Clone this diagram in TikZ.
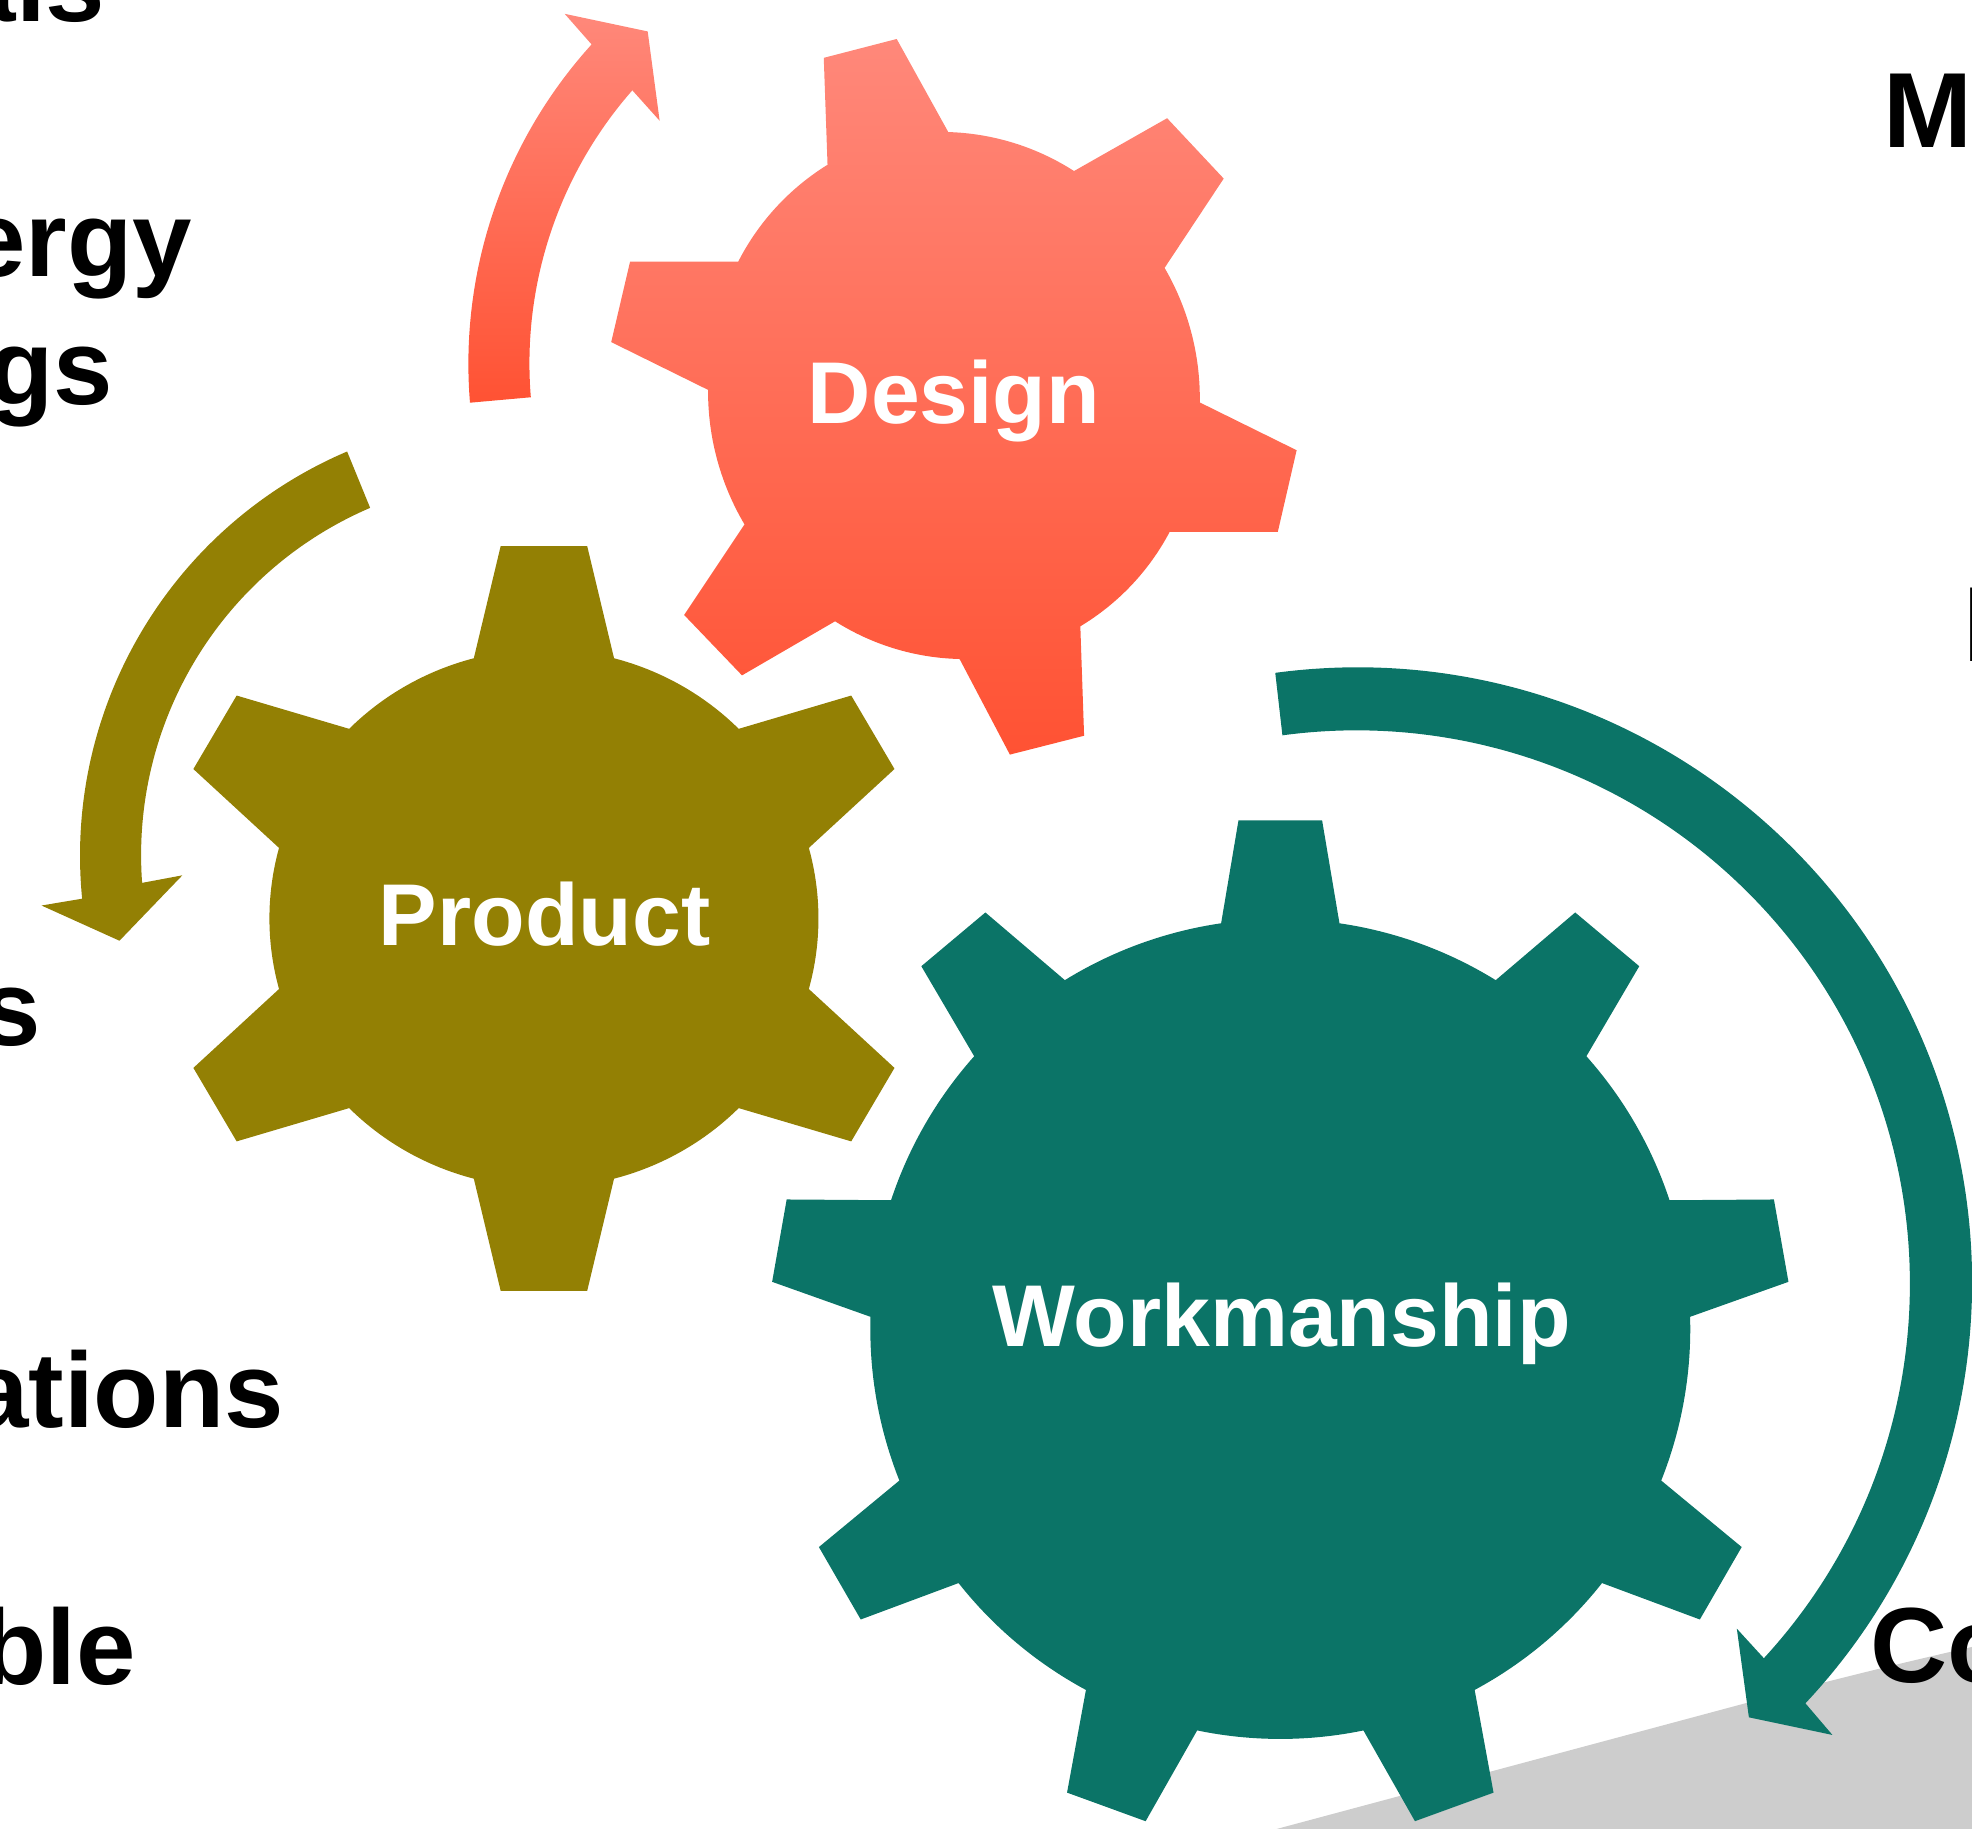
\documentclass[tikz,border=0pt]{standalone}
\usepackage{fontspec}
\setmainfont{Liberation Sans}
\usepackage{tikz}

\definecolor{tealgreen}{HTML}{0B7467}
\definecolor{olivegold}{HTML}{938004}
\definecolor{redlight}{HTML}{FF887A}
\definecolor{reddeep}{HTML}{FF5233}
\definecolor{floorgrey}{HTML}{CDCDCD}

% options, first tooth, step, half base, half tip, inner radius, outer radius, teeth
\newcommand{\drawgear}[8]{%
  \path[#1] (#2-#4:#6)
    \foreach \k [evaluate=\k as \t using #2+(\k-1)*#3] in {1,...,#8} {
      -- (\t-#4:#6) -- (\t-#5:#7) -- (\t+#5:#7) -- (\t+#4:#6)
      arc[start angle=\t+#4, end angle=\t+#3-#4, radius=#6]
    } -- cycle;
}

\begin{document}
\begin{tikzpicture}[
    x=0.025cm,
    y=0.025cm,
    tealshape/.style={fill=tealgreen},
    oliveshape/.style={fill=olivegold},
    redshape/.style={top color=redlight, bottom color=reddeep, draw=none},
    gapbend/.style={bend left=15.5, looseness=0.87},
    gearlabel/.style={text=white, font=\bfseries\fontsize{49.6}{60}\selectfont, anchor=base, inner sep=0pt},
    sidelabel/.style={text=black, font=\bfseries\fontsize{60.4}{74}\selectfont, inner sep=0pt}
]
\useasboundingbox (0,0) rectangle (1568,-1454.3);
\clip (0,0) rectangle (1568,-1454.3);
% Grey floor
\fill[floorgrey] (1015,-1454.3) -- (1389,-1354) .. controls (1440,-1340) and (1500,-1325) .. (1568,-1309.5) -- (1568,-1454.3) -- cycle;
% Gears
\path[redshape] (754,-105) to[gapbend] (854,-136)
    -- (928,-94) -- (973,-142) -- (926,-213) to[gapbend] (954,-320)
    -- (1031,-358) -- (1016,-423) -- (930,-423) to[gapbend] (859,-498)
    -- (862,-585) -- (803,-600) -- (763,-524) to[gapbend] (664,-494)
    -- (590,-537) -- (544,-489) -- (592,-417) to[gapbend] (563,-310)
    -- (486,-272) -- (501,-208) -- (587,-208) to[gapbend] (658,-131)
    -- (655,-46) -- (713,-31) -- cycle;
\drawgear{oliveshape, shift={(432.5,-730.3)}, xscale=1.02}{90}{60}{14.8}{6.5}{214}{298}{6}
\drawgear{tealshape, shift={(1018,-1056.7)}}{90}{40}{8.3}{4.7}{326}{405.8}{9}
% Curved arrows
\path[redshape] (373.7,-320.2) arc[start angle=184.7, end angle=137.8, radius=378]
    -- (449,-11) -- (515,-25) -- (524.5,-96) -- (502.8,-71.8)
    arc[start angle=138.7, end angle=184.7, radius=329] -- cycle;
\path[oliveshape] (276,-359) arc[start angle=113.1, end angle=185.6, radius=349.5]
    -- (33,-720) -- (95,-748) -- (145,-696) -- (113,-702)
    arc[start angle=184.2, end angle=113.2, radius=300.5] -- cycle;
\path[tealshape] (1014,-535) arc[start angle=97.65, end angle=-43.2, radius=489]
    -- (1457,-1379.5) -- (1390.6,-1365.5) -- (1381,-1295) -- (1402.5,-1318.5)
    arc[start angle=-42.6, end angle=97.7, radius=440] -- cycle;
% Gear labels
\node[gearlabel] (design) at (758.5,-337) {Design};
\node[gearlabel] (product) at (433,-752) {Product};
\node[gearlabel] (workmanship) at (1019,-1071) {Workmanship};
% Labels cut by the page edge
\node[sidelabel, anchor=base east] (materialsend) at (84,-17) {als};
\node[sidelabel, anchor=base east] (energy) at (153,-220) {ergy};
\node[sidelabel, anchor=base east] (savings) at (90,-322) {gs};
\node[sidelabel, anchor=base east] (costs) at (33,-831) {s};
\node[sidelabel, anchor=base east] (relations) at (226,-1135) {ations};
\node[sidelabel, anchor=base east] (table) at (108,-1339) {ble};
\node[sidelabel, anchor=base west] (materials) at (1497,-117) {M};
\node[sidelabel, anchor=base west] (lighting) at (1561,-526) {I};
\node[sidelabel, anchor=base west] (comfort) at (1487,-1338) {Co};
\end{tikzpicture}
\end{document}
